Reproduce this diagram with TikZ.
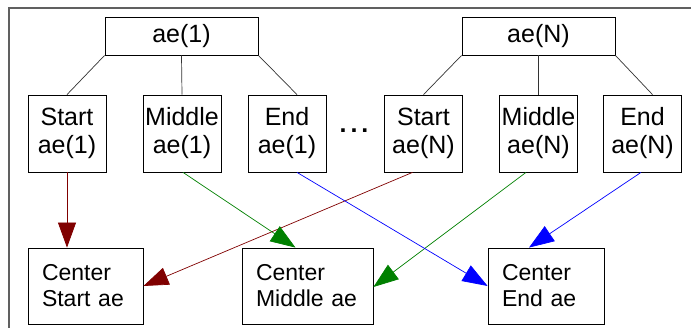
\documentclass[tikz,border=0pt]{standalone}
\usepackage{fontspec}
\setmainfont{Liberation Sans}
\usetikzlibrary{arrows.meta,calc}
\definecolor{arrred}{RGB}{128,0,0}
\definecolor{arrgreen}{RGB}{0,128,0}
\definecolor{arrblue}{RGB}{0,0,255}
\definecolor{framegray}{RGB}{96,96,96}
\begin{document}
\begin{tikzpicture}[x=1pt,y=-1pt,
  topbox/.style={draw=black,line width=0.8pt,minimum width=153pt,minimum height=38pt,inner sep=0pt,font=\fontsize{25}{28}\selectfont},
  partbox/.style={draw=black,line width=0.8pt,minimum width=78pt,minimum height=77pt,inner sep=0pt,align=center,font=\fontsize{25}{28}\selectfont},
  centerbox/.style={draw=black,line width=0.8pt,minimum height=76pt,inner xsep=14pt,inner ysep=0pt,align=left,font=\fontsize{23}{26}\selectfont},
  tree/.style={draw=black!80,line width=0.7pt},
  flow/.style={line width=0.7pt,-{Triangle[length=25pt,width=18pt]}}
]
\clip (0,0) rectangle (691,328);
\useasboundingbox (0,0) rectangle (691,328);
\coordinate (fb) at (9,340);
\coordinate (ftl) at (9,8);
\coordinate (ftr) at (700,8);
\draw[framegray,line width=1.2pt] (fb) -- (ftl) -- (ftr);

\node[topbox] (A1) at (181.5,36) {ae(1)};
\node[topbox] (AN) at (538.5,36) {ae(N)};

\node[partbox] (S1) at (67,133.5) {Start\\ae(1)};
\node[partbox] (M1) at (182,133.5) {Middle\\ae(1)};
\node[partbox] (E1) at (287,133.5) {End\\ae(1)};
\node[partbox] (SN) at (423.5,133.5) {Start\\ae(N)};
\node[partbox] (MN) at (538.5,133.5) {Middle\\ae(N)};
\node[partbox] (EN) at (642.5,133.5) {End\\ae(N)};

\node[font=\fontsize{25}{28}\selectfont\bfseries,inner sep=0pt] (dots) at (354,131) {.\kern4pt.\kern4pt.};

\node[centerbox,text width=87pt] (CS) at (85.5,286) {Center\\Start ae};
\node[centerbox,text width=103pt] (CM) at (307.5,286) {Center\\Middle ae};
\node[centerbox,text width=88pt] (CE) at (546,286) {Center\\End ae};

\draw[tree] (A1.south west) -- (S1.north);
\draw[tree] (A1.south) -- (M1.north);
\draw[tree] (A1.south east) -- ([xshift=10pt]E1.north);
\draw[tree] (AN.south west) -- (SN.north);
\draw[tree] (AN.south) -- (MN.north);
\draw[tree] (AN.south east) -- ([xshift=10pt]EN.north);

\draw[flow,arrred] (S1.south) -- (S1.south |- CS.north);
\draw[flow,arrred] ([xshift=-11pt]SN.south) -- (CS.east);
\draw[flow,arrgreen] ([xshift=1pt]M1.south) -- ([xshift=-12pt]CM.north);
\draw[flow,arrgreen] ([xshift=-12.5pt]MN.south) -- ([yshift=-1pt]CM.east);
\draw[flow,arrblue] ([xshift=10pt]E1.south) -- (CE.west);
\draw[flow,arrblue] ([xshift=-1.5pt]EN.south) -- ([xshift=-17pt]CE.north);
\end{tikzpicture}
\end{document}
